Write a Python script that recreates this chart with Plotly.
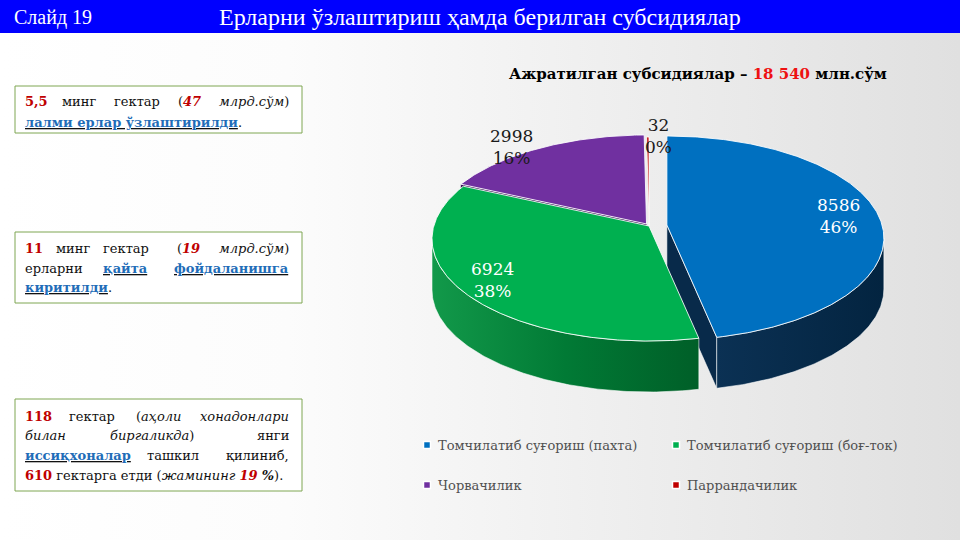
import numpy as np
import plotly.graph_objects as go

# ---------------- data ----------------
categories = ["Томчилатиб суғориш (пахта)", "Томчилатиб суғориш (боғ-ток)", "Чорвачилик", "Паррандачилик"]
values = [8586, 6924, 2998, 32]
percent_labels = ["46%", "38%", "16%", "0%"]
slide_label = "Слайд 19"
slide_title = "Ерларни ўзлаштириш ҳамда берилган субсидиялар"
chart_title_prefix = "Ажратилган субсидиялар – "
chart_title_suffix = " млн.сўм"

# ---------------- styles ----------------
top_colors = ["#0070c0", "#00b050", "#7030a0", "#c00000"]
wall_scales = [
    [[0, "#0b3154"], [1, "#032440"]],
    [[0, "#12994a"], [0.5, "#017a35"], [1, "#005f28"]],
    [[0, "#3d1a5c"], [1, "#3d1a5c"]],
    [[0, "#7a0000"], [1, "#7a0000"]],
]
radial_colors = ["#082a4a", "#006a2e", "#3a1657", "#700000"]
explode = [18, 0, 5, 0]
label_colors = ["white", "white", "#1a1a1a", "#1a1a1a"]
label_pos = [(838, 216), (492, 280), (511, 147), (658, 136)]
legend_pos = [(427, 445), (676, 445), (427, 485), (676, 485)]

CX, CY, RX, RY = 649, 239, 217, 102
VERT_SHIFT = -13
DEPTH = 51

total = sum(values)
fracs = np.array(values) / total
starts = np.concatenate([[0], np.cumsum(fracs)[:-1]]) * 360
ends = np.cumsum(fracs) * 360

fig = go.Figure()


def add_poly(xs, ys, **kw):
    fig.add_trace(go.Scatter(x=list(xs), y=list(ys), mode="lines", fill="toself",
                             hoverinfo="skip", showlegend=False, **kw))


def rim(theta, off, dy=0.0):
    t = np.radians(theta)
    return CX + off[0] + RX * np.sin(t), CY + off[1] - RY * np.cos(t) + dy


def vertex(off, dy=0.0):
    return CX + off[0], CY + VERT_SHIFT + off[1] + dy


# background gradient
add_poly([0, 960, 960, 0, 0], [33, 33, 540, 540, 33], line=dict(width=0),
         fillgradient=dict(type="horizontal",
                           colorscale=[[0, "#ffffff"], [0.3, "#fcfcfc"], [1, "#e0e0e0"]]))

offsets = []
for i in range(len(values)):
    mid = np.radians((starts[i] + ends[i]) / 2)
    offsets.append((explode[i] * np.sin(mid), -explode[i] * np.cos(mid) * RY / RX))

# radial face of the exploded blue slice (at its end angle)
off = offsets[0]
vx, vy = vertex(off)
rx_, ry_ = rim(ends[0], off)
add_poly([vx, rx_, rx_, vx, vx], [vy, ry_, ry_ + DEPTH, vy + DEPTH, vy],
         fillcolor=radial_colors[0], line=dict(color="rgba(255,255,255,0.7)", width=0.8))

# outer walls (front half only)
for i in range(len(values)):
    a = max(starts[i], 90)
    b = min(ends[i], 270)
    if b <= a:
        continue
    th = np.linspace(a, b, 120)
    xs, ys = rim(th, offsets[i])
    xb, yb = rim(th[::-1], offsets[i], DEPTH)
    X = np.concatenate([xs, xb, xs[:1]])
    Y = np.concatenate([ys, yb, ys[:1]])
    add_poly(X, Y, line=dict(color="rgba(255,255,255,0.7)", width=0.8),
             fillgradient=dict(type="horizontal", colorscale=wall_scales[i]))

# radial face of the purple slice (its start edge)
off = offsets[2]
vx, vy = vertex(off)
rx_, ry_ = rim(starts[2], off)
add_poly([vx, rx_, rx_, vx, vx], [vy, ry_, ry_ + DEPTH, vy + DEPTH, vy],
         fillcolor=radial_colors[2], line=dict(width=0))

# top faces
for i in range(len(values)):
    th = np.linspace(starts[i], ends[i], max(4, int((ends[i] - starts[i]) * 2)))
    xs, ys = rim(th, offsets[i])
    vx, vy = vertex(offsets[i])
    X = np.concatenate([[vx], xs, [vx]])
    Y = np.concatenate([[vy], ys, [vy]])
    add_poly(X, Y, fillcolor=top_colors[i], line=dict(color="rgba(255,255,255,0.85)", width=1))

# legend markers
fig.add_trace(go.Scatter(x=[p[0] for p in legend_pos], y=[p[1] for p in legend_pos], mode="markers",
                         marker=dict(symbol="square", size=7, color=top_colors,
                                     line=dict(color="white", width=1.5)),
                         hoverinfo="skip", showlegend=False))

annotations = []


def ann(x, y, text, size, color="black", anchor="center", family="DejaVu Serif", xref="x", yref="y"):
    annotations.append(dict(x=x, y=y, xref=xref, yref=yref, text=text, showarrow=False,
                            xanchor=anchor, yanchor="middle",
                            font=dict(family=family, size=size, color=color)))


# data labels
for i in range(len(values)):
    ann(label_pos[i][0], label_pos[i][1], f"{values[i]}<br>{percent_labels[i]}", 17, label_colors[i])

# legend texts
for i in range(len(categories)):
    ann(legend_pos[i][0] + 9, legend_pos[i][1], categories[i], 13, "#505050", "left")

# chart title
total_txt = f"{total:,}".replace(",", " ")
ann(698, 74, f"<b>{chart_title_prefix}<span style='color:#ee1111'>{total_txt}</span>{chart_title_suffix}</b>",
    15, "black")

# header
ann(12, 17, slide_label, 20, "white", "left", "Liberation Serif")
ann(480, 17, slide_title, 24, "white", "center", "Liberation Serif")

RED = "#c00000"
BLUE = "#1f6db8"


def red(t, italic=False):
    s = f"<b><span style='color:{RED}'>{t}</span></b>"
    return f"<i>{s}</i>" if italic else s


def link(t):
    return f"<b><u><span style='color:{BLUE}'>{t}</span></u></b>"


box_lines = [
    (101, [(red("5,5"), 23, "left"), ("минг", 79, "center"), ("гектар", 137, "center"),
           ("(" + red("47", True), 189, "center"), ("<i>млрд.сўм</i>)", 291, "right")]),
    (122, [(link("лалми ерлар ўзлаштирилди") + ".", 23, "left")]),
    (248, [(red("11"), 23, "left"), ("минг", 73, "center"), ("гектар", 126, "center"),
           ("(" + red("19", True), 188, "center"), ("<i>млрд.сўм</i>)", 291, "right")]),
    (268, [("ерларни", 23, "left"), (link("қайта"), 125, "center"), (link("фойдаланишга"), 291, "right")]),
    (287, [(link("киритилди") + ".", 23, "left")]),
    (416, [(red("118"), 23, "left"), ("гектар", 92, "center"), ("(<i>аҳоли</i>", 159, "center"),
           ("<i>хонадонлари</i>", 291, "right")]),
    (435, [("<i>билан</i>", 23, "left"), ("<i>биргаликда</i>)", 152, "center"), ("янги", 291, "right")]),
    (455, [(link("иссиқхоналар"), 23, "left"), ("ташкил", 173, "center"), ("қилиниб,", 291, "right")]),
    (475, [(red("610") + " гектарга етди (<i>жамининг</i> " + red("19", True) + " <b><i>%</i></b>).", 23, "left")]),
]
for y, segs in box_lines:
    for txt, x, anc in segs:
        ann(x, y, txt, 13, "#111111", anc)

shapes = [
    dict(type="rect", xref="paper", yref="paper", x0=0, x1=1, y0=1 - 33 / 540, y1=1,
         fillcolor="#0000ff", line=dict(width=0), layer="above"),
]
for (y0, y1) in [(86, 133), (232, 303), (399, 491)]:
    shapes.append(dict(type="rect", xref="x", yref="y", x0=15, x1=302, y0=y0, y1=y1,
                       fillcolor="white", line=dict(color="#7ea652", width=1), layer="above"))

fig.update_layout(
    width=960, height=540, margin=dict(l=0, r=0, t=0, b=0),
    paper_bgcolor="white", plot_bgcolor="white",
    xaxis=dict(range=[0, 960], visible=False, fixedrange=True),
    yaxis=dict(range=[540, 0], visible=False, fixedrange=True),
    shapes=shapes, annotations=annotations, showlegend=False,
)
fig.write_html("out.html")
